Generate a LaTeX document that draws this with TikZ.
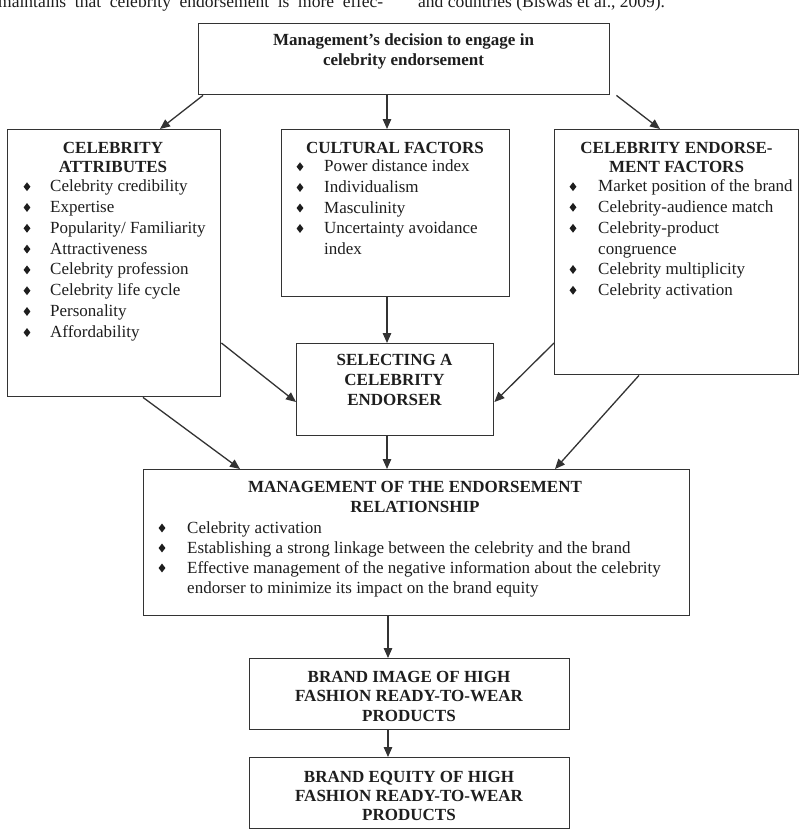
\documentclass[tikz,border=0pt]{standalone}
\usepackage{fontspec}
\setmainfont{Liberation Serif}
\usetikzlibrary{arrows.meta,shapes.geometric}
\definecolor{lc}{HTML}{333333}
\definecolor{tc}{HTML}{1E1E1E}
\newcommand\bitem[5]{%
  \node[bul] (#1b) at (#2,#4-5) {};
  \node[txt, anchor=base west] (#1) at (#3,#4) {#5};}
\begin{document}
\begin{tikzpicture}[x=1pt,y=-1pt,
  box/.style={draw=lc, line width=1.4pt, inner sep=0pt, anchor=north west},
  txt/.style={inner sep=0pt, text=tc, font=\fontsize{17}{20}\selectfont},
  hd/.style={txt, anchor=base, font=\fontsize{17}{20}\selectfont\bfseries},
  bul/.style={diamond, fill=tc, draw=none, inner sep=0pt, minimum width=7pt, minimum height=9pt},
  arr/.style={draw=lc, line width=1.3pt, -{Triangle[length=10pt,width=8.5pt]}}]
\useasboundingbox (0,0) rectangle (800,830);
\clip (0,0) rectangle (800,830);
\fill[white] (0,0) rectangle (800,830);

% running text at the top (cut off)
\node[txt, anchor=base west, font=\fontsize{17.5}{20}\selectfont] (run1) at (-2,7.5)
  {\makebox[385pt][s]{maintains that celebrity endorsement is more effec-}};
\node[txt, anchor=base west, font=\fontsize{17.5}{20}\selectfont] (run2) at (418,7.5)
  {and countries (Biswas et al., 2009).};

% boxes
\node[box, minimum width=411pt, minimum height=71pt] (top) at (198,23) {};
\node[box, minimum width=213pt, minimum height=267pt] (ca) at (7,129) {};
\node[box, minimum width=228pt, minimum height=167pt] (cf) at (281,129) {};
\node[box, minimum width=244pt, minimum height=245pt] (cef) at (554,129) {};
\node[box, minimum width=197pt, minimum height=92pt] (sel) at (296,343) {};
\node[box, minimum width=546pt, minimum height=146pt] (mgmt) at (143,469) {};
\node[box, minimum width=320pt, minimum height=71pt] (bi) at (249,658) {};
\node[box, minimum width=320pt, minimum height=71pt] (be) at (249,757) {};

% top box text
\node[hd] (top1) at (403.5,45) {Management’s decision to engage in};
\node[hd] (top2) at (403.5,65) {celebrity endorsement};

% celebrity attributes
\node[hd] (ca1) at (113,153) {CELEBRITY};
\node[hd] (ca2) at (113,172) {ATTRIBUTES};
\bitem{ca3}{27}{50}{191.7}{Celebrity credibility}
\bitem{ca4}{27}{50}{212.5}{Expertise}
\bitem{ca5}{27}{50}{233.3}{Popularity/ Familiarity}
\bitem{ca6}{27}{50}{254.1}{Attractiveness}
\bitem{ca7}{27}{50}{274.9}{Celebrity profession}
\bitem{ca8}{27}{50}{295.7}{Celebrity life cycle}
\bitem{ca9}{27}{50}{316.5}{Personality}
\bitem{ca10}{27}{50}{337.5}{Affordability}

% cultural factors
\node[hd] (cf1) at (395,153) {CULTURAL FACTORS};
\bitem{cf2}{300}{324}{171.7}{Power distance index}
\bitem{cf3}{300}{324}{192.5}{Individualism}
\bitem{cf4}{300}{324}{213}{Masculinity}
\bitem{cf5}{300}{324}{233.5}{Uncertainty avoidance}
\node[txt, anchor=base west] (cf6) at (324,254.3) {index};

% celebrity endorsement factors
\node[hd] (cef1) at (676.5,153) {CELEBRITY ENDORSE-};
\node[hd] (cef2) at (676.5,172) {MENT FACTORS};
\bitem{cef3}{573}{598}{191.7}{Market position of the brand}
\bitem{cef4}{573}{598}{212.3}{Celebrity-audience match}
\bitem{cef5}{573}{598}{233.3}{Celebrity-product}
\node[txt, anchor=base west] (cef6) at (598,254) {congruence};
\bitem{cef7}{573}{598}{274.5}{Celebrity multiplicity}
\bitem{cef8}{573}{598}{295.3}{Celebrity activation}

% selecting
\node[hd] (sel1) at (394.5,365) {SELECTING A};
\node[hd] (sel2) at (394.5,385) {CELEBRITY};
\node[hd] (sel3) at (394.5,405) {ENDORSER};

% management
\node[hd] (m1) at (415,492) {MANAGEMENT OF THE ENDORSEMENT};
\node[hd] (m2) at (415,512) {RELATIONSHIP};
\bitem{m3}{162}{187}{533}{Celebrity activation}
\bitem{m4}{162}{187}{553}{Establishing a strong linkage between the celebrity and the brand}
\bitem{m5}{162}{187}{573}{Effective management of the negative information about the celebrity}
\node[txt, anchor=base west] (m6) at (187,593) {endorser to minimize its impact on the brand equity};

% brand image / equity
\node[hd] (bi1) at (409,682) {BRAND IMAGE OF HIGH};
\node[hd] (bi2) at (409,701.5) {FASHION READY-TO-WEAR};
\node[hd] (bi3) at (409,721) {PRODUCTS};
\node[hd] (be1) at (409,782) {BRAND EQUITY OF HIGH};
\node[hd] (be2) at (409,801.5) {FASHION READY-TO-WEAR};
\node[hd] (be3) at (409,820) {PRODUCTS};

% connectors
\draw[arr] ([xshift=5pt]top.south west) -- ([xshift=153pt]ca.north west);
\draw[arr] ([xshift=189pt]top.south west) -- ([xshift=106pt]cf.north west);
\draw[arr] ([xshift=6pt]top.south east) -- ([xshift=106pt]cef.north west);
\draw[arr] ([xshift=106pt]cf.south west) -- ([xshift=91pt]sel.north west);
\draw[arr] ([yshift=-214pt]ca.north east) -- ([yshift=-59pt]sel.north west);
\draw[arr] ([yshift=-214pt]cef.north west) -- ([yshift=-59pt]sel.north east);
\draw[arr] ([xshift=136pt]ca.south west) -- ([xshift=97pt]mgmt.north west);
\draw[arr] ([xshift=91pt]sel.south west) -- ([xshift=244pt]mgmt.north west);
\draw[arr] ([xshift=85pt]cef.south west) -- ([xshift=412pt]mgmt.north west);
\draw[arr] ([xshift=245pt]mgmt.south west) -- ([xshift=139pt]bi.north west);
\draw[arr] ([xshift=139pt]bi.south west) -- ([xshift=139pt]be.north west);
\end{tikzpicture}
\end{document}
